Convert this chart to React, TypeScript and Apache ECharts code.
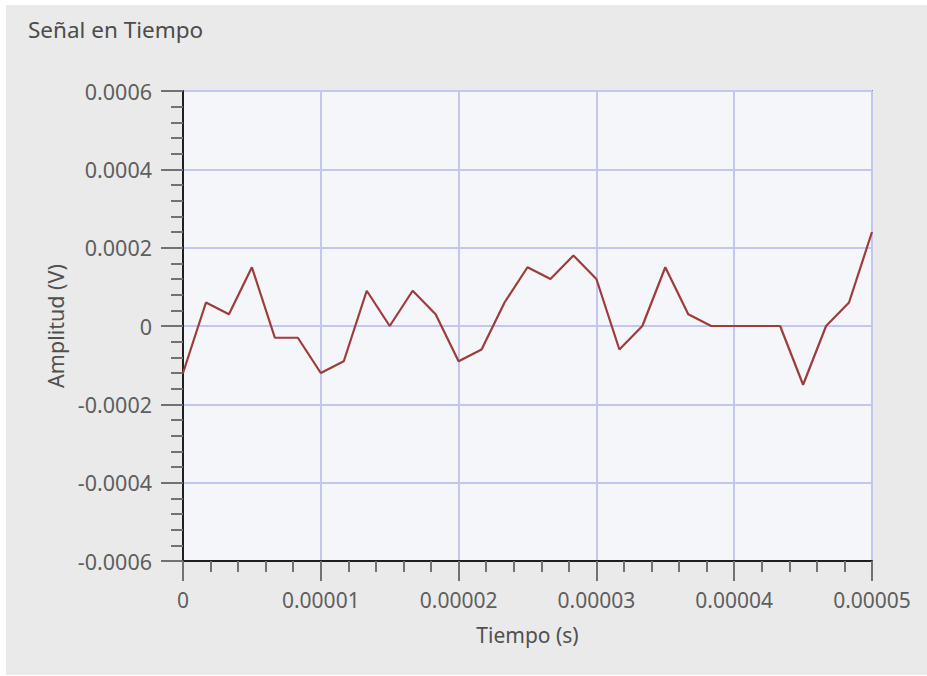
import React, { useEffect, useRef } from "react";
import * as echarts from "echarts";

const chartTitle = "Señal en Tiempo";
const xAxisName = "Tiempo (s)";
const yAxisName = "Amplitud (V)";
const sampleRate = 600000; // samples per second
const amplitudes = [
  -0.00012, 0.00006, 0.00003, 0.00015, -0.00003, -0.00003, -0.00012, -0.00009,
  0.00009, 0.0, 0.00009, 0.00003, -0.00009, -0.00006, 0.00006, 0.00015,
  0.00012, 0.00018, 0.00012, -0.00006, 0.0, 0.00015, 0.00003, 0.0,
  0.0, 0.0, 0.0, -0.00015, 0.0, 0.00006, 0.00024,
];
const xTicks = [0, 0.00001, 0.00002, 0.00003, 0.00004, 0.00005];
const xTickLabels = ["0", "0.00001", "0.00002", "0.00003", "0.00004", "0.00005"];
const yTicks = [-0.0006, -0.0004, -0.0002, 0, 0.0002, 0.0004, 0.0006];
const yTickLabels = ["-0.0006", "-0.0004", "-0.0002", "0", "0.0002", "0.0004", "0.0006"];

function labelFor(v: number, ticks: number[], labels: string[]) {
  let best = 0;
  let bd = Infinity;
  ticks.forEach((t, i) => {
    const d = Math.abs(t - v);
    if (d < bd) {
      bd = d;
      best = i;
    }
  });
  return labels[best];
}

export default function App() {
  const ref = useRef<HTMLDivElement>(null);
  useEffect(() => {
    if (!ref.current) return;
    const chart = echarts.init(ref.current, null, { renderer: "svg" });
    const font = "'Noto Sans', 'Open Sans', sans-serif";
    const data = amplitudes.map((a, i) => [i / sampleRate, a]);
    chart.setOption({
      animation: false,
      backgroundColor: "#ffffff",
      textStyle: { fontFamily: font },
      graphic: [
        {
          type: "rect",
          z: -10,
          silent: true,
          shape: { x: 6, y: 5, width: 921, height: 670 },
          style: { fill: "#EAEAEA" },
        },
      ],
      title: {
        text: chartTitle,
        left: 28,
        top: 18,
        padding: 0,
        textStyle: { fontFamily: font, fontSize: 22.5, fontWeight: "normal", color: "#4C4C4C" },
      },
      grid: {
        left: 183,
        top: 91,
        right: 55,
        bottom: 115,
        show: true,
        backgroundColor: "#F5F6FA",
        borderColor: "#7E93B0",
        borderWidth: 2,
      },
      xAxis: {
        type: "value",
        min: 0,
        max: 0.00005,
        interval: 0.00001,
        name: xAxisName,
        nameLocation: "middle",
        nameGap: 63,
        nameTextStyle: { fontFamily: font, fontSize: 21, color: "#505050" },
        axisLine: { show: true, onZero: false, lineStyle: { color: "#1F1F1F", width: 2 } },
        axisTick: { show: true, inside: false, length: 20, lineStyle: { color: "#727272", width: 2 } },
        minorTick: { show: true, splitNumber: 5, length: 11, lineStyle: { color: "#727272", width: 2 } },
        axisLabel: {
          margin: 28,
          fontFamily: font,
          fontSize: 21,
          color: "#5E5E5E",
          formatter: (v: number) => labelFor(v, xTicks, xTickLabels),
        },
        splitLine: { show: true, lineStyle: { color: "#C3C6EF", width: 2 } },
      },
      yAxis: {
        type: "value",
        min: -0.0006,
        max: 0.0006,
        interval: 0.0002,
        name: yAxisName,
        nameLocation: "middle",
        nameGap: 117,
        nameTextStyle: { fontFamily: font, fontSize: 21.5, color: "#505050" },
        axisLine: { show: true, onZero: false, lineStyle: { color: "#1F1F1F", width: 2 } },
        axisTick: { show: true, inside: false, length: 22, lineStyle: { color: "#727272", width: 2 } },
        minorTick: { show: true, splitNumber: 5, length: 12, lineStyle: { color: "#727272", width: 2 } },
        axisLabel: {
          margin: 31,
          fontFamily: font,
          fontSize: 21.5,
          color: "#5E5E5E",
          formatter: (v: number) => labelFor(v, yTicks, yTickLabels),
        },
        splitLine: { show: true, lineStyle: { color: "#C3C6EF", width: 2 } },
      },
      series: [
        {
          type: "line",
          data,
          showSymbol: false,
          symbol: "none",
          lineStyle: { color: "#9E3B3B", width: 2.2 },
        },
      ],
    });
    return () => chart.dispose();
  }, []);
  return (
    <div
      ref={ref}
      style={{ position: "fixed", left: 0, top: 0, width: 927, height: 676 }}
    />
  );
}
